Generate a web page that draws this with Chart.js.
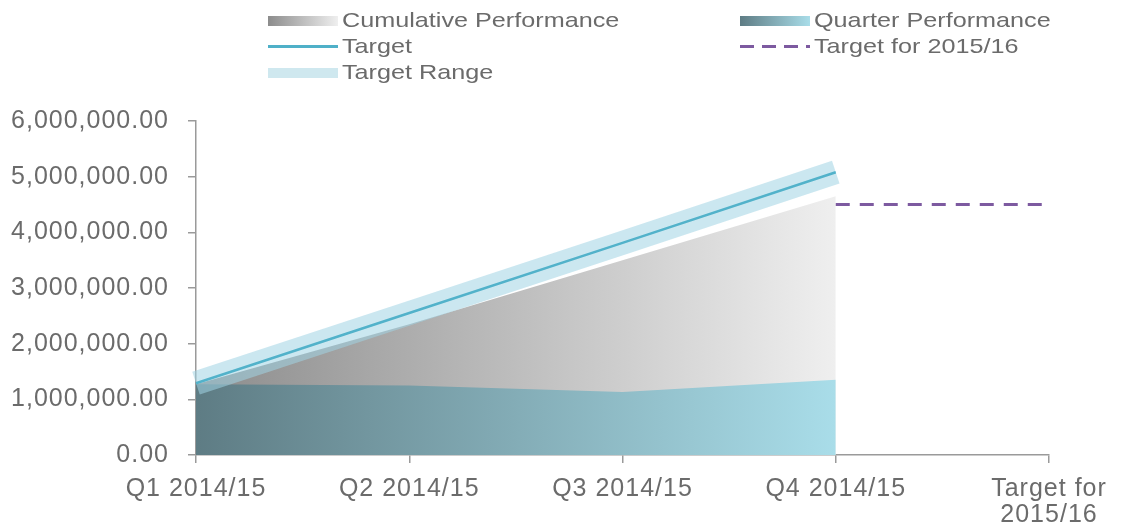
<!DOCTYPE html>
<html>
<head>
<meta charset="utf-8">
<script src="https://cdn.jsdelivr.net/npm/chart.js@4/dist/chart.umd.min.js"></script>
<style>
  html, body { margin: 0; padding: 0; background: #fff; width: 1123px; height: 526px; overflow: hidden; }
  #wrap { position: absolute; left: 0; top: 0; width: 1123px; height: 526px; }
  #legend { position: absolute; left: 0; top: 0; width: 1123px; height: 90px; font-family: "Liberation Sans", Arial, sans-serif; color: #6b6b6b; }
  .item { position: absolute; height: 26px; }
  .sw { position: absolute; left: 0; width: 70px; }
  .tx { position: absolute; left: 74px; top: 0; font-size: 21px; line-height: 26px; white-space: nowrap; transform: scaleX(1.2); transform-origin: left center; }
</style>
</head>
<body>
<div id="wrap">
  <canvas id="c" width="1123" height="526"></canvas>
  <div id="legend">
    <div class="item" style="left:268px; top:7px;">
      <div class="sw" style="top:9px; height:10px; background:linear-gradient(to right,#8c8c8c,#efefef);"></div>
      <span class="tx">Cumulative Performance</span>
    </div>
    <div class="item" style="left:740px; top:7px;">
      <div class="sw" style="top:9px; height:10px; background:linear-gradient(to right,#5e7c84,#a9dde9);"></div>
      <span class="tx">Quarter Performance</span>
    </div>
    <div class="item" style="left:268px; top:33px;">
      <div class="sw" style="top:12px; height:3px; background:#4fb0c8;"></div>
      <span class="tx">Target</span>
    </div>
    <div class="item" style="left:740px; top:33px;">
      <div class="sw" style="top:12px; height:3px; background:repeating-linear-gradient(to right,#7d5aa0 0,#7d5aa0 14px,transparent 14px,transparent 22px);"></div>
      <span class="tx">Target for 2015/16</span>
    </div>
    <div class="item" style="left:268px; top:59px;">
      <div class="sw" style="top:9px; height:10px; background:#cfe8ef;"></div>
      <span class="tx">Target Range</span>
    </div>
  </div>
</div>
<script>
const categories = ["Q1 2014/15", "Q2 2014/15", "Q3 2014/15", "Q4 2014/15", ["Target for", "2015/16"]];
const cumulativePerformance = [1270000, 2350000, 3500000, 4650000, null];
const quarterPerformance = [1270000, 1250000, 1130000, 1350000, null];
const target = [1290000, 2550000, 3810000, 5080000, null];
const targetRange = [1290000, 2550000, 3810000, 5080000, null];
const target201516 = [null, null, null, 4500000, 4500000];
const yTicks = [0, 1000000, 2000000, 3000000, 4000000, 5000000, 6000000];

function hGrad(c0, c1) {
  return (context) => {
    const chart = context.chart;
    const area = chart.chartArea;
    if (!area) return c0;
    const xs = chart.scales.x;
    const x0 = xs.getPixelForValue(0);
    const x1 = xs.getPixelForValue(3);
    const g = chart.ctx.createLinearGradient(x0, 0, x1, 0);
    g.addColorStop(0, c0);
    g.addColorStop(1, c1);
    return g;
  };
}

const textColor = "#6b6b6b";
const axisColor = "#9a9a9a";

const spacingPlugin = {
  id: "spacing",
  beforeDraw(chart) { chart.ctx.letterSpacing = "1px"; }
};

new Chart(document.getElementById("c"), {
  type: "line",
  plugins: [spacingPlugin],
  data: {
    labels: categories,
    datasets: [
      {
        label: "Target",
        data: target,
        borderColor: "#52b2ca",
        borderWidth: 2.5,
        pointRadius: 0,
        fill: false,
        tension: 0,
        order: 0
      },
      {
        label: "Target Range",
        data: targetRange,
        borderColor: "rgba(160,212,228,0.55)",
        borderWidth: 24,
        borderCapStyle: "butt",
        pointRadius: 0,
        fill: false,
        tension: 0,
        order: 1
      },
      {
        label: "Target for 2015/16",
        data: target201516,
        borderColor: "#7d5aa0",
        borderWidth: 3,
        borderDash: [14, 10],
        pointRadius: 0,
        fill: false,
        order: 2
      },
      {
        label: "Quarter Performance",
        data: quarterPerformance,
        borderWidth: 0,
        borderColor: "rgba(0,0,0,0)",
        backgroundColor: hGrad("#5e7c84", "#a9dde9"),
        pointRadius: 0,
        fill: "origin",
        tension: 0,
        order: 3
      },
      {
        label: "Cumulative Performance",
        data: cumulativePerformance,
        borderWidth: 0,
        borderColor: "rgba(0,0,0,0)",
        backgroundColor: hGrad("#8c8c8c", "#efefef"),
        pointRadius: 0,
        fill: "origin",
        tension: 0,
        order: 4
      }
    ]
  },
  options: {
    responsive: false,
    animation: false,
    devicePixelRatio: 1,
    layout: { padding: { top: 121, right: 74, left: 0, bottom: 0 } },
    plugins: { legend: { display: false }, tooltip: { enabled: false } },
    scales: {
      x: {
        offset: false,
        grid: { drawOnChartArea: false, drawTicks: true, tickLength: 8, color: axisColor, lineWidth: 1.5 },
        border: { color: axisColor, width: 1.5 },
        ticks: { color: textColor, font: { family: "'Liberation Sans', Arial, sans-serif", size: 25, lineHeight: 1.05 }, padding: 13, maxRotation: 0, autoSkip: false },
        afterFit: (s) => { s.height = 71; }
      },
      y: {
        min: 0,
        max: 6000000,
        afterBuildTicks: (s) => { s.ticks = yTicks.map(v => ({ value: v })); },
        grid: { drawOnChartArea: false, drawTicks: true, tickLength: 8, color: axisColor, lineWidth: 1.5 },
        border: { color: axisColor, width: 1.5 },
        ticks: {
          color: textColor,
          font: { family: "'Liberation Sans', Arial, sans-serif", size: 25 },
          padding: 19,
          callback: (v) => Number(v).toLocaleString("en-US", { minimumFractionDigits: 2, maximumFractionDigits: 2 })
        },
        afterFit: (s) => { s.width = 196; }
      }
    }
  }
});
</script>
</body>
</html>
